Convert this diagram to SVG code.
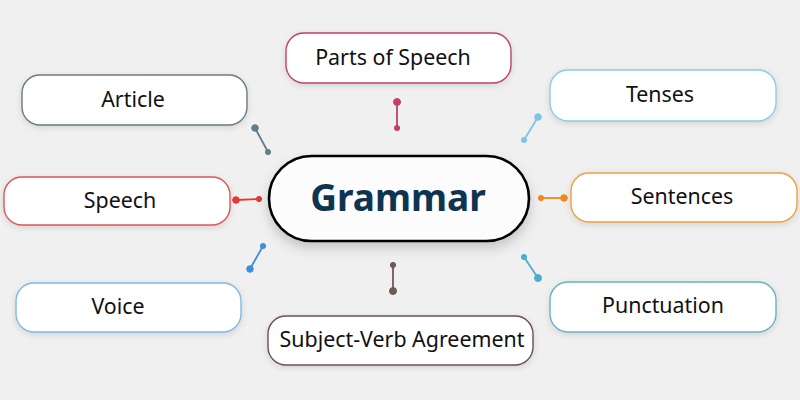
<svg xmlns="http://www.w3.org/2000/svg" width="800" height="400" viewBox="0 0 800 400">
<defs>
<filter id="sh" x="-20%" y="-30%" width="140%" height="160%">
<feDropShadow dx="0" dy="2" stdDeviation="3" flood-color="#000" flood-opacity="0.12"/>
</filter>
<filter id="shc" x="-20%" y="-30%" width="140%" height="170%">
<feDropShadow dx="0" dy="6" stdDeviation="6" flood-color="#000" flood-opacity="0.18"/>
</filter>
<style>
.box{fill:#fff;stroke-width:1.4;filter:url(#sh)}
.lbl{font-family:"Noto Sans","Open Sans","Liberation Sans",sans-serif;font-size:21.4px;fill:#111;text-anchor:middle}
.title{font-family:"Noto Sans","Open Sans","Liberation Sans",sans-serif;font-size:37px;font-weight:bold;fill:#0e3450;text-anchor:middle}
.ln{stroke-width:1.8;fill:none}
</style>
</defs>
<rect width="800" height="400" fill="#f0f0f0"/>
<g id="connectors">
<g stroke="#607d8b" fill="#607d8b"><line class="ln" x1="255" y1="128" x2="268" y2="152"/><circle cx="255" cy="128" r="3.3"/><circle cx="268" cy="152" r="2.6"/></g>
<g stroke="#c2406b" fill="#c2406b"><line class="ln" x1="397" y1="102" x2="397" y2="128"/><circle cx="397" cy="102" r="3.5"/><circle cx="397" cy="128" r="2.6"/></g>
<g stroke="#7cc4e8" fill="#7cc4e8"><line class="ln" x1="538" y1="117" x2="524" y2="140"/><circle cx="538" cy="117" r="3.3"/><circle cx="524" cy="140" r="2.6"/></g>
<g stroke="#e53935" fill="#e53935"><line class="ln" x1="236" y1="200" x2="259" y2="199"/><circle cx="236" cy="200" r="3.3"/><circle cx="259" cy="199" r="2.6"/></g>
<g stroke="#ef8a1a" fill="#ef8a1a"><line class="ln" x1="541" y1="198" x2="564" y2="198"/><circle cx="541" cy="198" r="2.6"/><circle cx="564" cy="198" r="3.3"/></g>
<g stroke="#3d8fdc" fill="#3d8fdc"><line class="ln" x1="263" y1="246" x2="250" y2="269"/><circle cx="263" cy="246" r="2.6"/><circle cx="250" cy="269" r="3.3"/></g>
<g stroke="#6d5a52" fill="#6d5a52"><line class="ln" x1="393" y1="265" x2="393" y2="291"/><circle cx="393" cy="265" r="2.6"/><circle cx="393" cy="291" r="3.5"/></g>
<g stroke="#4aaecc" fill="#4aaecc"><line class="ln" x1="524" y1="257" x2="538" y2="278"/><circle cx="524" cy="257" r="2.6"/><circle cx="538" cy="278" r="3.5"/></g>
</g>
<g id="grammar">
<rect x="269" y="156" width="260" height="85" rx="42.5" fill="#fcfcfc" stroke="#000" stroke-width="2.6" filter="url(#shc)"/>
<text class="title" x="398" y="211">Grammar</text>
</g>
<g id="article"><rect class="box" x="22" y="75" width="225" height="50" rx="18" stroke="#6b7b80"/><text class="lbl" x="133" y="107">Article</text></g>
<g id="parts-of-speech"><rect class="box" x="286" y="33" width="225" height="50" rx="18" stroke="#c0426a"/><text class="lbl" x="393" y="65">Parts of Speech</text></g>
<g id="tenses"><rect class="box" x="550" y="70" width="226" height="51" rx="18" stroke="#8ccbe8"/><text class="lbl" x="660" y="102">Tenses</text></g>
<g id="speech"><rect class="box" x="4" y="177" width="226" height="48" rx="18" stroke="#e05555"/><text class="lbl" x="120" y="208">Speech</text></g>
<g id="sentences"><rect class="box" x="571" y="173" width="226" height="49" rx="18" stroke="#f0a040"/><text class="lbl" x="682" y="204">Sentences</text></g>
<g id="voice"><rect class="box" x="16" y="283" width="225" height="49" rx="18" stroke="#80b8e8"/><text class="lbl" x="118" y="314">Voice</text></g>
<g id="subject-verb-agreement"><rect class="box" x="268" y="316" width="265" height="49" rx="18" stroke="#6d5050"/><text class="lbl" x="402" y="347">Subject-Verb Agreement</text></g>
<g id="punctuation"><rect class="box" x="550" y="282" width="226" height="50" rx="18" stroke="#6ab0c8"/><text class="lbl" x="663" y="313">Punctuation</text></g>
</svg>
